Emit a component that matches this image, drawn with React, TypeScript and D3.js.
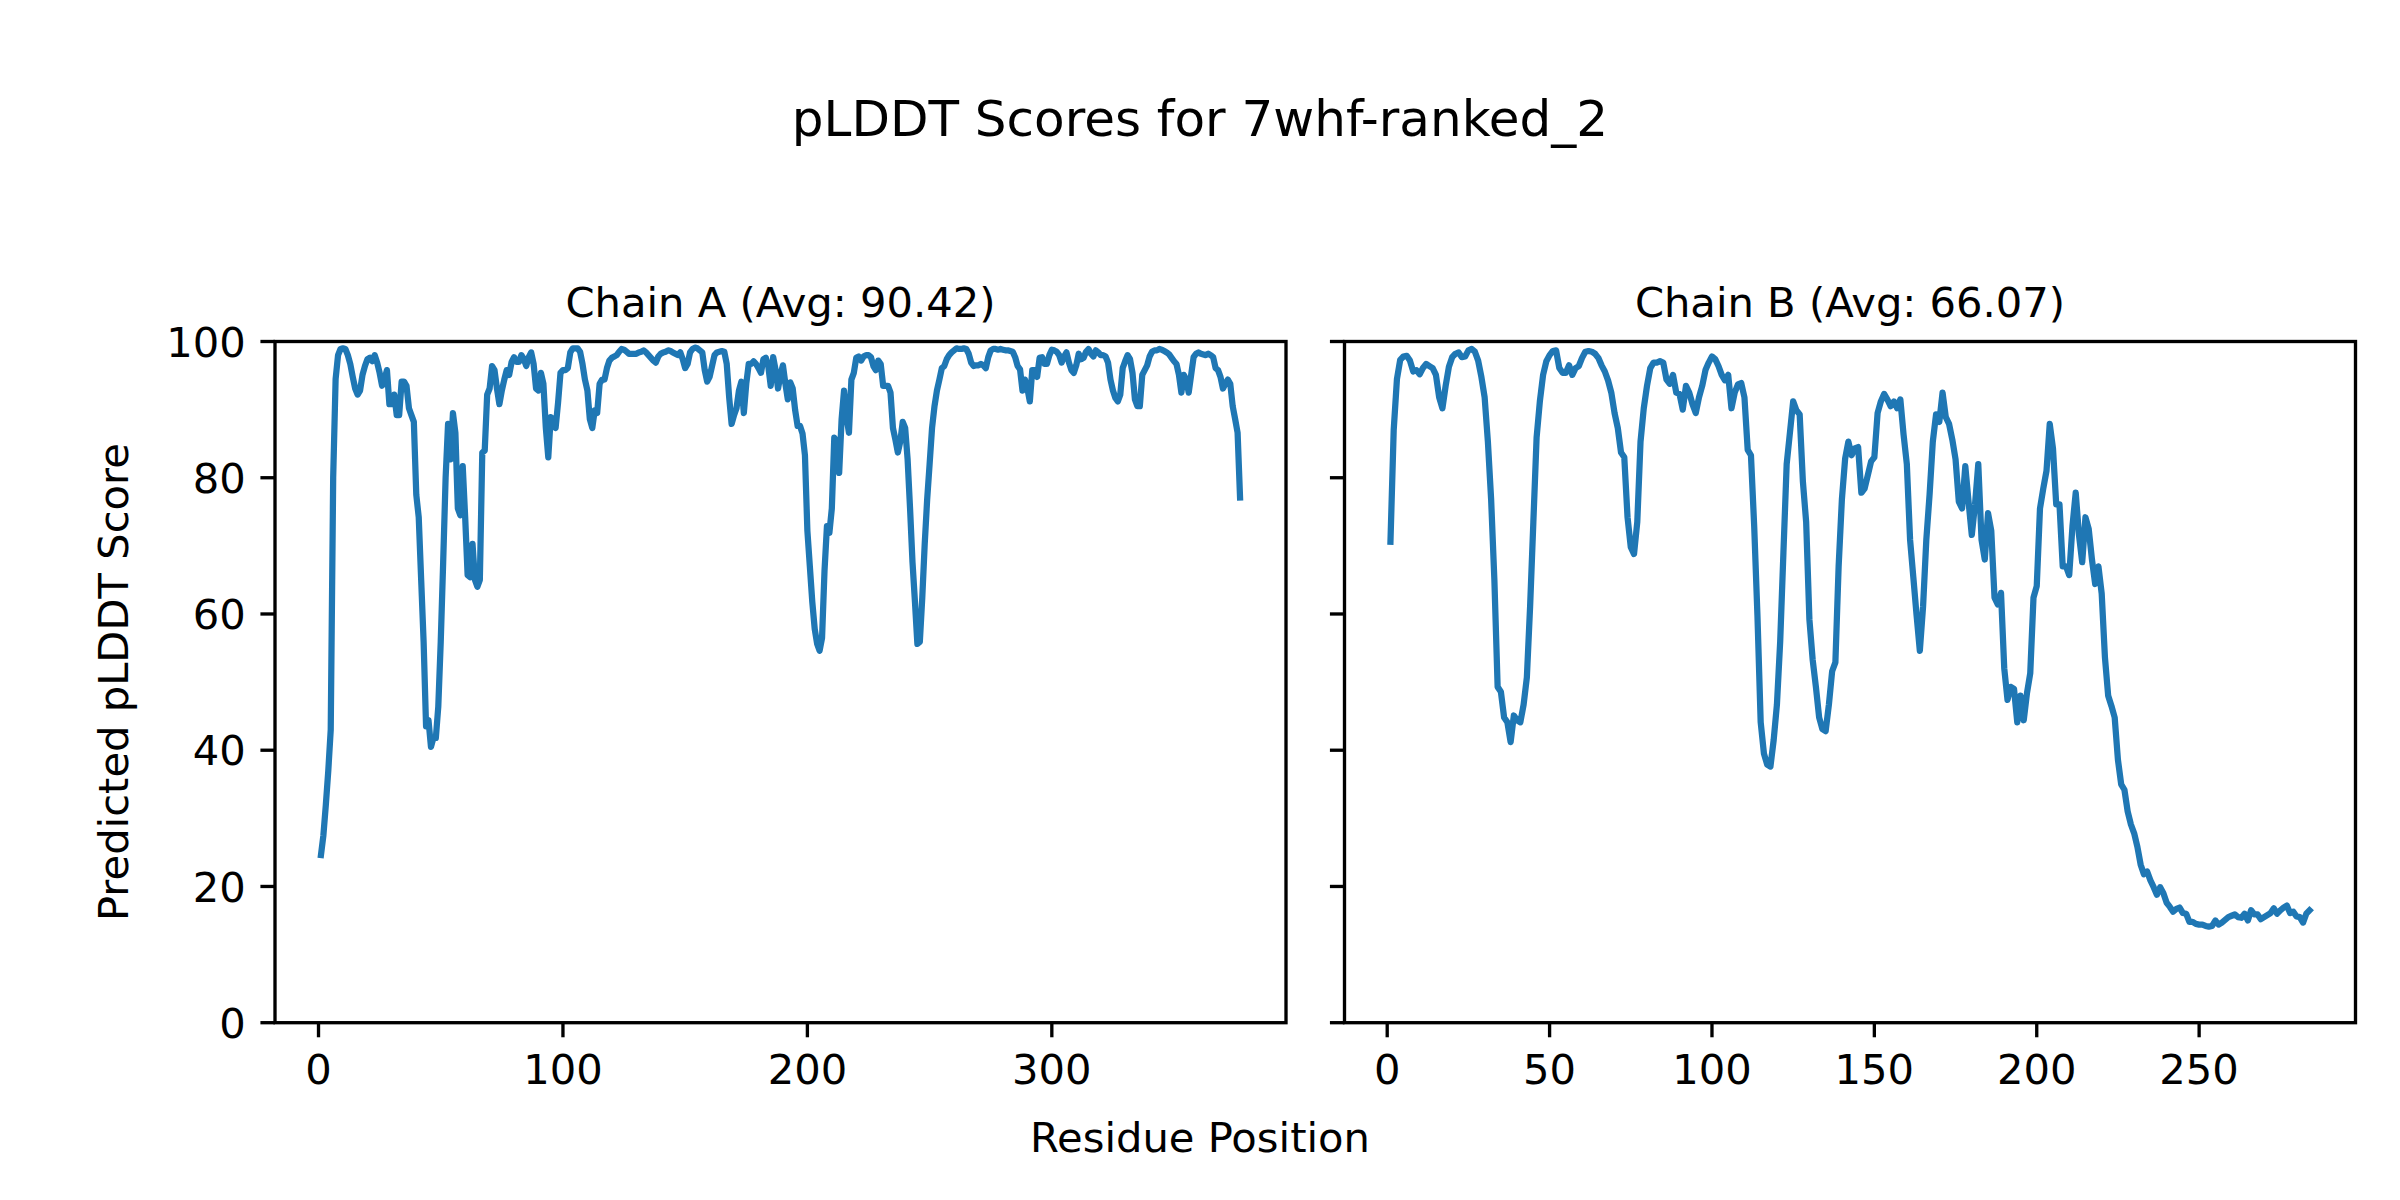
import * as d3 from "d3";

// per-residue pLDDT
const chainA: number[] = [
  24.6, 27.5, 32, 37, 43, 80, 94.5, 98, 98.9, 99,
  98.9, 98, 96.7, 94.8, 93.1, 92.2, 92.8, 95.1, 96.4, 97.4,
  97.6, 97.1, 98, 96.9, 95.4, 93.5, 94.5, 95.8, 90.8, 90.8,
  92.2, 89.2, 89.2, 94.1, 94.1, 93.5, 90.2, 89.2, 88.2, 77.5,
  74.2, 65, 55.9, 43.5, 44.4, 40.5, 41.8, 41.8, 46.4, 55.9,
  67.6, 80, 87.9, 82.7, 89.5, 86.6, 75.5, 74.5, 81.7, 74.2,
  65.7, 65.4, 70.3, 65, 64, 65, 83.7, 84, 92.2, 93.1,
  96.4, 95.8, 93.1, 90.8, 92.8, 94.4, 95.8, 95.1, 97, 97.7,
  97, 97, 98, 97.4, 96.4, 97.7, 98.4, 96.7, 93.1, 92.8,
  95.4, 93.8, 87.3, 83, 88.9, 88.6, 87.3, 91, 95.4, 95.8,
  95.8, 96.1, 98.4, 99, 99, 99, 98.5, 96.7, 94.4, 92.8,
  88.6, 87.3, 89.9, 89.5, 93.8, 94.4, 94.4, 96.1, 97.2, 97.6,
  97.8, 98, 98.5, 98.9, 98.8, 98.5, 98.2, 98.2, 98.2, 98.2,
  98.4, 98.5, 98.7, 98.4, 98, 97.6, 97.2, 96.9, 97.8, 98.2,
  98.4, 98.5, 98.7, 98.6, 98.4, 98.2, 98, 98.4, 97.4, 96.1,
  96.7, 98.4, 98.9, 99.1, 99, 98.7, 98.4, 95.8, 94.1, 94.8,
  96.4, 98, 98.4, 98.5, 98.6, 98.5, 96.7, 91.8, 87.9, 89.2,
  90.2, 92.8, 94.1, 89.5, 93.8, 96.7, 96.7, 97.1, 96.7, 96.1,
  95.4, 97.4, 97.6, 96.4, 93.5, 97.7, 95.8, 93.1, 95.1, 96.5,
  93.8, 91.5, 94, 93.1, 89.9, 87.6, 87.6, 86.5, 83.3, 72.2,
  67, 61.8, 57.8, 55.6, 54.6, 56.5, 66.3, 72.9, 71.9, 75.5,
  85.9, 85.3, 80.7, 88.6, 92.8, 88.9, 86.6, 94.4, 95.4, 97.6,
  97.8, 97.2, 97.8, 98, 98, 97.7, 96.4, 95.8, 97.2, 96.7,
  93.5, 93.5, 93.5, 92.5, 87.3, 85.6, 83.7, 85.3, 88.2, 87.3,
  82.7, 75.5, 67.6, 61.8, 55.6, 55.9, 62.4, 70.3, 76.8, 82,
  87.3, 90.5, 92.8, 94.4, 96.1, 96.4, 97.4, 98, 98.4, 98.7,
  99, 98.9, 98.9, 99, 98.9, 98.2, 96.9, 96.4, 96.5, 96.5,
  96.7, 96.5, 96.1, 97.7, 98.7, 98.9, 98.9, 98.8, 98.9, 98.8,
  98.7, 98.7, 98.6, 98.5, 97.7, 96.4, 95.9, 92.8, 94.4, 93.1,
  91.2, 95.8, 95.8, 94.8, 97.6, 97.7, 96.7, 96.7, 98, 98.8,
  98.7, 98.5, 98, 96.9, 97.8, 98.4, 96.9, 95.8, 95.4, 96.5,
  98.2, 97.4, 97.6, 98.5, 98.9, 98.2, 97.8, 98.7, 98.4, 98,
  98, 97.8, 96.9, 94.4, 92.8, 91.7, 91.2, 92.2, 96.1, 97.1,
  98, 97.4, 95.4, 91.5, 90.5, 90.5, 95.1, 95.8, 96.5, 97.8,
  98.5, 98.7, 98.7, 98.9, 98.8, 98.6, 98.4, 98.1, 97.6, 97.1,
  96.7, 95.1, 92.5, 95.1, 94.4, 92.5, 95.1, 97.7, 98.2, 98.4,
  98.2, 98.1, 98, 98.2, 98, 97.7, 96.1, 95.8, 94.8, 93.1,
  93.8, 94.4, 93.8, 90.5, 88.6, 86.6, 77.1,
];

const chainB: number[] = [
  70.6, 87, 94.5, 97.3, 97.8, 97.9, 97.2, 95.6, 95.8, 95.2,
  96.1, 96.7, 96.4, 96.1, 95.1, 91.8, 90.2, 93.5, 96.3, 97.7,
  98.2, 98.4, 97.7, 97.8, 98.7, 98.9, 98.5, 97.2, 94.8, 91.8,
  85.3, 76.8, 65, 49.3, 48.6, 44.8, 44.1, 41.2, 45.1, 44.4,
  44.1, 46.7, 50.7, 61.1, 73.5, 85.9, 91.2, 95.1, 97.1, 98,
  98.6, 98.7, 96.1, 95.4, 95.4, 96.5, 95.1, 96.1, 96.4, 97.6,
  98.5, 98.6, 98.5, 98.2, 97.6, 96.5, 95.6, 94.3, 92.5, 89.5,
  87.3, 83.7, 83, 74.2, 69.8, 68.8, 73.5, 85.3, 90.2, 93.5,
  96.1, 96.9, 96.9, 97.1, 96.9, 94.4, 93.8, 95.1, 92.5, 92.3,
  90, 93.5, 92.5, 90.8, 89.5, 91.8, 93.5, 95.8, 96.9, 97.8,
  97.4, 96.4, 95.1, 94.3, 95.1, 90.2, 92.5, 93.7, 93.9, 91.8,
  84.1, 83.3, 72.9, 59.8, 44.1, 39.5, 37.9, 37.6, 41.5, 46.7,
  55.9, 69, 82, 86.6, 91.2, 89.9, 89.3, 79.4, 73.5, 59.2,
  53.3, 49.3, 44.8, 43.1, 42.8, 46.7, 51.6, 52.9, 67, 76.8,
  82.8, 85.3, 83.3, 84.3, 84.5, 77.8, 78.4, 80.4, 82.4, 83,
  89.5, 91.2, 92.3, 91.5, 90.5, 91.2, 90.2, 91.5, 86.3, 82,
  70.9, 65.4, 59.8, 54.6, 61.1, 70.9, 77.5, 85.3, 89.3, 88.2,
  92.5, 88.9, 87.9, 85.6, 82.7, 76.5, 75.5, 81.7, 76.5, 71.6,
  76.1, 82, 70.9, 68, 74.8, 72.2, 62.4, 61.4, 63.1, 52,
  47.4, 49.3, 49, 44.1, 48, 44.4, 48.4, 51.3, 62.4, 64.1,
  75.5, 78.4, 81, 87.9, 84.3, 76.1, 76.1, 67, 67, 65.7,
  72.9, 77.8, 71.6, 67.6, 74.2, 72.5, 68, 64.4, 67, 63,
  53.6, 48, 46.5, 44.8, 38.6, 35, 34.2, 31, 29.1, 27.8,
  25.8, 23.2, 21.8, 22.2, 20.9, 19.9, 18.8, 19.9, 19, 17.6,
  17, 16.3, 16.7, 16.9, 16.1, 16, 14.8, 14.8, 14.5, 14.4,
  14.4, 14.2, 14.1, 14.2, 15, 14.4, 14.7, 15.1, 15.5, 15.7,
  15.9, 15.5, 15.4, 16, 15, 16.5, 15.9, 15.9, 15.2, 15.5,
  15.8, 16.1, 16.8, 16, 16.5, 16.9, 17.2, 16.1, 16.3, 15.6,
  15.5, 14.7, 16, 16.5,
];

const chains = [
  { name: "A", avg: "90.42", values: chainA, ticks: [0, 100, 200, 300] },
  { name: "B", avg: "66.07", values: chainB, ticks: [0, 50, 100, 150, 200, 250] },
];
const yTicks = [0, 20, 40, 60, 80, 100];

const W = 2400;
const H = 1200;
const FONT = "DejaVu Sans, sans-serif";
const FS = 41.67; // 10pt @ 300dpi
const LW_AX = 3.33; // 0.8pt
const TICK = 14.58; // 3.5pt
const PAD = 14.58;
const BLUE = "#1f77b4";

// axes boxes (px)
const TOP = 341.5;
const BOTTOM = 1022.7;
const boxes = [
  { left: 275, right: 1286 },
  { left: 1344.5, right: 2355.5 },
];

const y = d3.scaleLinear().domain([0, 100]).range([BOTTOM, TOP]);

function Panel({ idx }: { idx: number }) {
  const c = chains[idx];
  const b = boxes[idx];
  const n = c.values.length;
  const margin = 0.05 * (n - 1);
  const x = d3
    .scaleLinear()
    .domain([1 - margin, n + margin])
    .range([b.left, b.right]);
  const line = d3
    .line<number>()
    .x((_, i) => x(i + 1))
    .y((v) => y(v));

  return (
    <g>
      <text
        x={(b.left + b.right) / 2}
        y={TOP - 25}
        textAnchor="middle"
        fontSize={FS}
        fontFamily={FONT}
      >
        {`Chain ${c.name} (Avg: ${c.avg})`}
      </text>
      <path
        d={line(c.values) ?? ""}
        fill="none"
        stroke={BLUE}
        strokeWidth={6.25}
        strokeLinejoin="round"
        strokeLinecap="square"
      />
      <rect
        x={b.left}
        y={TOP}
        width={b.right - b.left}
        height={BOTTOM - TOP}
        fill="none"
        stroke="#000"
        strokeWidth={LW_AX}
      />
      {c.ticks.map((t) => (
        <g key={`x${t}`}>
          <line
            x1={x(t)}
            x2={x(t)}
            y1={BOTTOM}
            y2={BOTTOM + TICK}
            stroke="#000"
            strokeWidth={LW_AX}
          />
          <text
            x={x(t)}
            y={BOTTOM + TICK + PAD + 0.76 * FS}
            textAnchor="middle"
            fontSize={FS}
            fontFamily={FONT}
          >
            {t}
          </text>
        </g>
      ))}
      {yTicks.map((t) => (
        <g key={`y${t}`}>
          <line
            x1={b.left - TICK}
            x2={b.left}
            y1={y(t)}
            y2={y(t)}
            stroke="#000"
            strokeWidth={LW_AX}
          />
          {idx === 0 && (
            <text
              x={b.left - TICK - PAD}
              y={y(t) + 0.365 * FS}
              textAnchor="end"
              fontSize={FS}
              fontFamily={FONT}
            >
              {t}
            </text>
          )}
        </g>
      ))}
    </g>
  );
}

export default function App() {
  return (
    <div style={{ position: "absolute", left: 0, top: 0, background: "#fff" }}>
      <svg width={W} height={H} viewBox={`0 0 ${W} ${H}`} style={{ display: "block" }}>
        <rect width={W} height={H} fill="#fff" />
        <text x={W / 2} y={136} textAnchor="middle" fontSize={50} fontFamily={FONT}>
          pLDDT Scores for 7whf-ranked_2
        </text>
        <Panel idx={0} />
        <Panel idx={1} />
        <text
          transform={`translate(128, ${(TOP + BOTTOM) / 2}) rotate(-90)`}
          textAnchor="middle"
          fontSize={FS}
          fontFamily={FONT}
        >
          Predicted pLDDT Score
        </text>
        <text x={W / 2} y={1152} textAnchor="middle" fontSize={FS} fontFamily={FONT}>
          Residue Position
        </text>
      </svg>
    </div>
  );
}
